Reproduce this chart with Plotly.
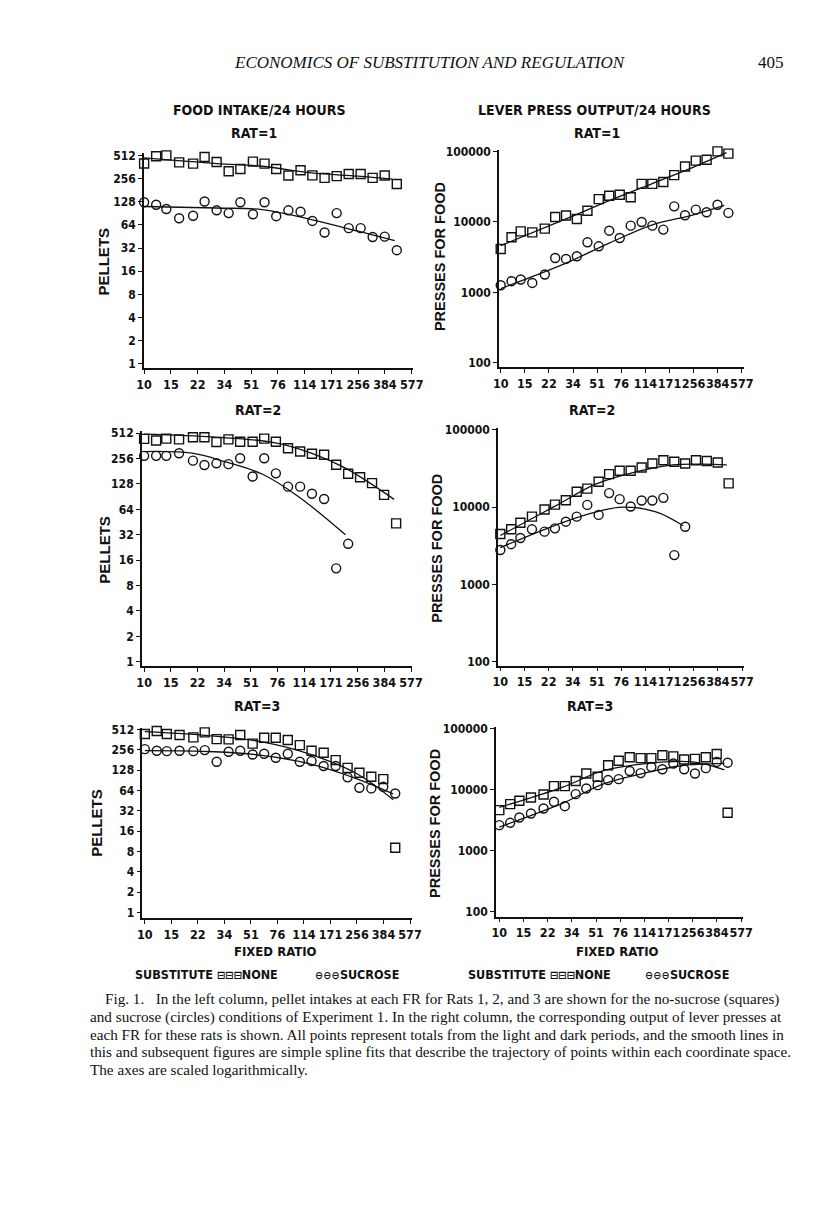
import math
import plotly.graph_objects as go

FIG_W, FIG_H = 800, 1191
# measured mapping from figure pixels to the photographed page (page = A + B * figure)
MAP_AX, MAP_BX = 15.6, 0.973
MAP_AY, MAP_BY = 13.4, 0.9926

# ---------------- data ----------------
FR = [10, 12, 14, 17, 21, 25, 30, 36, 43, 52, 62, 74, 89, 107, 128, 154, 185, 222, 266, 319, 383, 460]
FR_TICK_VALS = [10, 15, 22.5, 33.75, 50.63, 75.94, 113.9, 170.9, 256.3, 384.4, 576.7]
FR_TICK_TEXT = ["10", "15", "22", "34", "51", "76", "114", "171", "256", "384", "577"]
PELLET_TICKS = [1, 2, 4, 8, 16, 32, 64, 128, 256, 512]
PRESS_TICKS = [100, 1000, 10000, 100000]

# Rat 1
R1_PELLETS_NONE = [401, 500, 512, 416, 400, 488, 420, 318, 341, 425, 400, 341, 280, 328, 282, 261, 275, 294, 294, 261, 280, 218]
R1_PELLETS_SUCROSE = [126, 117, 103, 78, 84, 129, 99, 91, 126, 88, 126, 83, 99, 95, 72, 51, 91, 58, 58, 44.5, 45, 30]
R1_PRESSES_NONE = [4120, 6040, 7340, 7100, 8010, 11700, 12300, 11000, 14400, 21000, 23500, 24300, 22300, 34600, 34600, 36700, 46000, 61100, 74000, 76000, 100000, 93000]
R1_PRESSES_SUCROSE = [1260, 1440, 1520, 1360, 1790, 3070, 2980, 3250, 5130, 4500, 7500, 5900, 8840, 9950, 8840, 7770, 16600, 12400, 14900, 13700, 17500, 13400]

# Rat 2
R2_PELLETS_NONE = [439, 420, 442, 433, 458, 458, 402, 433, 405, 405, 442, 405, 340, 311, 292, 284, 216, 169, 154, 131, 95, 43.7]
R2_PELLETS_SUCROSE = [276, 276, 276, 296, 242, 215, 225, 220, 258, 157, 258, 171, 119, 119, 98, 85, 12.8, 25]
R2_PRESSES_NONE = [4500, 5170, 6300, 7540, 9350, 10800, 12300, 15800, 17400, 21300, 26800, 29600, 29600, 32600, 36700, 40400, 38700, 36700, 40400, 39500, 37800, 20300]
R2_PRESSES_SUCROSE = [2790, 3320, 3990, 5170, 4820, 5320, 6490, 7540, 10700, 7940, 15200, 12700, 10200, 12200, 12200, 13200, 2400, 5580]

# Rat 3
R3_PELLETS_NONE = [437, 484, 437, 422, 390, 462, 367, 364, 422, 315, 385, 385, 357, 300, 247, 231, 180, 138, 117, 102, 94, 9.1]
R3_PELLETS_SUCROSE = [261, 247, 244, 247, 244, 253, 170, 239, 247, 218, 223, 195, 223, 170, 174, 147, 147, 100, 70, 68.6, 72.5, 57.7]
R3_PRESSES_NONE = [4610, 5780, 6560, 7420, 8310, 11400, 11400, 13800, 18300, 16200, 25000, 29600, 33800, 32600, 32600, 36300, 34900, 31000, 31700, 33800, 38200, 4170]
R3_PRESSES_SUCROSE = [2620, 2860, 3500, 4070, 4910, 6310, 5350, 8420, 10400, 11800, 14300, 14800, 20100, 18600, 23400, 21500, 26700, 21500, 18300, 22400, 28400, 27500]

# Smooth (spline) fit lines
FIT_L1_NONE_FR = [10, 30, 60, 126, 256, 430]
FIT_L1_NONE = [474, 401, 370, 303, 275, 252]
FIT_L1_SUC_FR = [10, 30, 60, 126, 256, 446]
FIT_L1_SUC = [111, 106, 101, 75, 53, 40]
FIT_R1_NONE_FR = [10, 30, 62, 128, 256, 446]
FIT_R1_NONE = [4600, 11000, 20000, 35000, 60000, 96000]
FIT_R1_SUC_FR = [10, 30, 62, 128, 256, 430]
FIT_R1_SUC = [1130, 2600, 5000, 9100, 12600, 17100]

FIT_L2_NONE_FR = [10, 29, 72, 128, 213, 446]
FIT_L2_NONE = [498, 459, 396, 296, 197, 84]
FIT_L2_SUC_FR = [10, 20.7, 34, 60, 104, 213]
FIT_L2_SUC = [310, 297, 236, 168, 91, 32]
FIT_R2_NONE_FR = [10, 25, 50, 104, 180, 300, 446]
FIT_R2_NONE = [4300, 10300, 20000, 29500, 35300, 36000, 35300]
FIT_R2_SUC_FR = [10, 29, 50, 78, 136, 215]
FIT_R2_SUC = [3000, 6400, 8700, 10000, 8700, 5760]

FIT_L3_NONE_FR = [10, 29, 60, 123, 256, 446]
FIT_L3_NONE = [474, 408, 335, 223, 113, 46.6]
FIT_L3_SUC_FR = [10, 29, 60, 123, 256, 446]
FIT_L3_SUC = [248, 239, 211, 159, 95, 57]
FIT_R3_NONE_FR = [10, 29, 58, 121, 256, 436]
FIT_R3_NONE = [5100, 11000, 20500, 26900, 28400, 21000]
FIT_R3_SUC_FR = [10, 29, 58, 121, 209, 436]
FIT_R3_SUC = [2440, 6000, 12500, 19100, 24500, 26800]

# ---------------- styling ----------------
NARROW = "Liberation Sans Narrow, DejaVu Sans Condensed, Arial Narrow, sans-serif"
SANS = "Liberation Sans, Arial, sans-serif"
SERIF = "Liberation Serif, Times New Roman, serif"
BLACK = "#111111"


def fig_x(X):
    return (X - MAP_AX) / MAP_BX


def fig_y(Y):
    return (Y - MAP_AY) / MAP_BY


def px_x(X):
    return fig_x(X) / FIG_W


def px_y(Y):
    return 1 - fig_y(Y) / FIG_H


def log_range(p_a, v_a, p_b, v_b, q0, q1):
    la, lb = math.log10(v_a), math.log10(v_b)
    k = (lb - la) / (p_b - p_a)
    return [la + (q0 - p_a) * k, la + (q1 - p_a) * k]


# panel layout in page pixels: axis-line extents and calibration points
panels = [
    dict(kind="pel", x0=143, x1=411, xc=(143.3, 410.0), yt=153, yb=368, yc=(155.7, 364.0),
         none=R1_PELLETS_NONE, suc=R1_PELLETS_SUCROSE,
         fits=[(FIT_L1_NONE_FR, FIT_L1_NONE), (FIT_L1_SUC_FR, FIT_L1_SUC)]),
    dict(kind="prs", x0=497, x1=741, xc=(498.7, 739.0), yt=150, yb=367.5, yc=(151.7, 363.0),
         none=R1_PRESSES_NONE, suc=R1_PRESSES_SUCROSE,
         fits=[(FIT_R1_NONE_FR, FIT_R1_NONE), (FIT_R1_SUC_FR, FIT_R1_SUC)]),
    dict(kind="pel", x0=141, x1=410, xc=(143.3, 409.3), yt=431.5, yb=666, yc=(433.3, 661.7),
         none=R2_PELLETS_NONE, suc=R2_PELLETS_SUCROSE,
         fits=[(FIT_L2_NONE_FR, FIT_L2_NONE), (FIT_L2_SUC_FR, FIT_L2_SUC)]),
    dict(kind="prs", x0=496, x1=741, xc=(498.3, 739.3), yt=428.5, yb=665.5, yc=(430.0, 661.7),
         none=R2_PRESSES_NONE, suc=R2_PRESSES_SUCROSE,
         fits=[(FIT_R2_NONE_FR, FIT_R2_NONE), (FIT_R2_SUC_FR, FIT_R2_SUC)]),
    dict(kind="pel", x0=141.5, x1=410, xc=(144.0, 408.3), yt=727.5, yb=918, yc=(729.3, 912.3),
         none=R3_PELLETS_NONE, suc=R3_PELLETS_SUCROSE,
         fits=[(FIT_L3_NONE_FR, FIT_L3_NONE), (FIT_L3_SUC_FR, FIT_L3_SUC)]),
    dict(kind="prs", x0=494, x1=740, xc=(497.3, 738.3), yt=726.5, yb=916.5, yc=(728.3, 911.7),
         none=R3_PRESSES_NONE, suc=R3_PRESSES_SUCROSE,
         fits=[(FIT_R3_NONE_FR, FIT_R3_NONE), (FIT_R3_SUC_FR, FIT_R3_SUC)]),
]

fig = go.Figure()
layout_axes = {}

for i, p in enumerate(panels, start=1):
    xa = "x" if i == 1 else f"x{i}"
    ya = "y" if i == 1 else f"y{i}"
    xkey = "xaxis" if i == 1 else f"xaxis{i}"
    ykey = "yaxis" if i == 1 else f"yaxis{i}"

    xr = log_range(p["xc"][0], 10, p["xc"][1], 576.7, p["x0"], p["x1"])
    if p["kind"] == "pel":
        ytop, ybot = 512, 1
        yticks = PELLET_TICKS
    else:
        ytop, ybot = 100000, 100
        yticks = PRESS_TICKS
    yr = log_range(p["yc"][1], ybot, p["yc"][0], ytop, p["yb"], p["yt"])

    layout_axes[xkey] = dict(
        type="log", range=xr, domain=[px_x(p["x0"]), px_x(p["x1"])], anchor=ya,
        tickmode="array", tickvals=FR_TICK_VALS, ticktext=FR_TICK_TEXT, tickangle=0,
        ticks="outside", ticklen=4, tickwidth=1.3, tickcolor=BLACK,
        showline=True, linecolor=BLACK, linewidth=1.5, showgrid=False, zeroline=False,
        tickfont=dict(family=NARROW, size=12.5, color=BLACK, weight="bold"),
    )
    layout_axes[ykey] = dict(
        type="log", range=yr, domain=[px_y(p["yb"]), px_y(p["yt"])], anchor=xa,
        tickmode="array", tickvals=yticks, ticktext=[str(t) for t in yticks],
        ticks="outside", ticklen=4, tickwidth=1.3, tickcolor=BLACK,
        showline=True, linecolor=BLACK, linewidth=1.5, showgrid=False, zeroline=False,
        tickfont=dict(family=NARROW, size=12, color=BLACK, weight="bold"),
    )

    for fr_vals, vals in p["fits"]:
        fig.add_trace(go.Scatter(x=fr_vals, y=vals, xaxis=xa, yaxis=ya, mode="lines",
                                 line=dict(color=BLACK, width=1.3, shape="spline", smoothing=1.0),
                                 showlegend=False, hoverinfo="skip"))
    fig.add_trace(go.Scatter(x=FR[:len(p["none"])], y=p["none"], xaxis=xa, yaxis=ya, mode="markers",
                             marker=dict(symbol="square-open", size=9, color=BLACK, line=dict(width=1.4)),
                             cliponaxis=False, showlegend=False, name="NONE"))
    fig.add_trace(go.Scatter(x=FR[:len(p["suc"])], y=p["suc"], xaxis=xa, yaxis=ya, mode="markers",
                             marker=dict(symbol="circle-open", size=9, color=BLACK, line=dict(width=1.4)),
                             cliponaxis=False, showlegend=False, name="SUCROSE"))


def ann(text, x, y, size, family, angle=0, xanchor="center", bold=False):
    fig.add_annotation(text=(f"<b>{text}</b>" if bold else text), x=px_x(x), y=px_y(y),
                       xref="paper", yref="paper", showarrow=False, textangle=angle,
                       xanchor=xanchor, yanchor="middle", borderpad=0,
                       font=dict(family=family, size=size, color=BLACK))


# page header
ann("<i>ECONOMICS OF SUBSTITUTION AND REGULATION</i>", 428, 63, 17, SERIF)
ann("405", 768, 63, 17, SERIF)

# column titles
ann("FOOD INTAKE/24 HOURS", 258, 110, 14, NARROW, bold=True)
ann("LEVER PRESS OUTPUT/24 HOURS", 592, 110, 14, NARROW, bold=True)
for (lx, rx, yy, lab) in [(253, 595, 133, "RAT=1"), (257, 590, 410, "RAT=2"), (256, 588, 706, "RAT=3")]:
    ann(lab, lx, yy, 14, NARROW, bold=True)
    ann(lab, rx, yy, 14, NARROW, bold=True)

# y-axis titles
for (px, py) in [(103, 262), (104, 550), (95, 823)]:
    ann("PELLETS", px, py, 15, SANS, angle=-90, bold=True)
for (px, py) in [(437.5, 257), (435, 548), (433, 823)]:
    ann("PRESSES FOR FOOD", px, py, 14.5, SANS, angle=-90, bold=True)

# x-axis titles
ann("FIXED RATIO", 274, 951, 13, NARROW, bold=True)
ann("FIXED RATIO", 615, 951, 13, NARROW, bold=True)

# legends
SQ = '<span style="font-size:11px">⊟⊟⊟</span>'
CI = '<span style="font-size:11px">⊖⊖⊖</span>'
ann(f"SUBSTITUTE {SQ}NONE", 133, 974, 12.5, NARROW, xanchor="left", bold=True)
ann(f"{CI}SUCROSE", 313, 974, 12.5, NARROW, xanchor="left", bold=True)
ann(f"SUBSTITUTE {SQ}NONE", 465, 974, 12.5, NARROW, xanchor="left", bold=True)
ann(f"{CI}SUCROSE", 642, 974, 12.5, NARROW, xanchor="left", bold=True)

# caption
CAPTION = [
    "Fig. 1.   In the left column, pellet intakes at each FR for Rats 1, 2, and 3 are shown for the no-sucrose (squares)",
    "and sucrose (circles) conditions of Experiment 1. In the right column, the corresponding output of lever presses at",
    "each FR for these rats is shown. All points represent totals from the light and dark periods, and the smooth lines in",
    "this and subsequent figures are simple spline fits that describe the trajectory of points within each coordinate space.",
    "The axes are scaled logarithmically.",
]
for k, line in enumerate(CAPTION):
    ann(line, 103 if k == 0 else 88, 999 + 17.5 * k, 15.2, SERIF, xanchor="left")

fig.update_layout(
    width=FIG_W, height=FIG_H, margin=dict(l=0, r=0, t=0, b=0),
    paper_bgcolor="white", plot_bgcolor="white", showlegend=False,
    **layout_axes,
)

fig.write_html("out.html")
